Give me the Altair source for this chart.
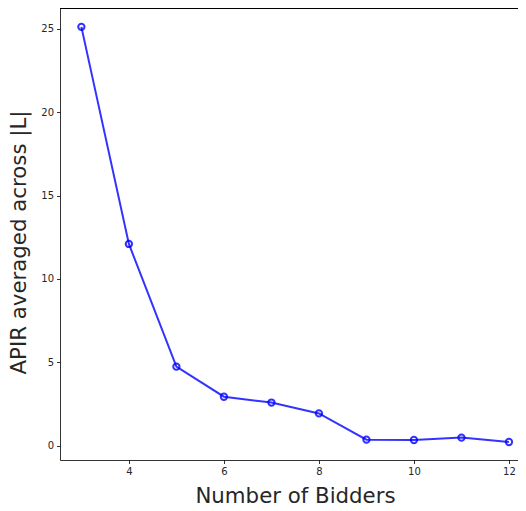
import altair as alt
import pandas as pd

bidders = [3, 4, 5, 6, 7, 8, 9, 10, 11, 12]
apir = [25.1, 12.1, 4.75, 2.95, 2.6, 1.95, 0.38, 0.36, 0.5, 0.24]

df = pd.DataFrame({"bidders": bidders, "apir": apir})

W = 458
H = 452
FONT = "DejaVu Sans"

x = alt.X(
    "bidders:Q",
    scale=alt.Scale(domain=[2.55, 12.19], nice=False, zero=False),
    axis=alt.Axis(
        values=[4, 6, 8, 10, 12],
        grid=False,
        tickSize=3.5,
        tickColor="black",
        tickWidth=0.8,
        domainColor="black",
        domainWidth=0.8,
        labelFontSize=10,
        labelColor="#262626",
        labelFont=FONT,
        labelPadding=3,
        title="Number of Bidders",
        titleFontSize=21.3,
        titleFontWeight="normal",
        titleFont=FONT,
        titleColor="#262626",
        titleX=235,
        titleY=42.5,
        titleBaseline="alphabetic",
        titleAlign="center",
    ),
)
y = alt.Y(
    "apir:Q",
    scale=alt.Scale(domain=[-0.84, 26.23], nice=False, zero=False),
    axis=alt.Axis(
        values=[0, 5, 10, 15, 20, 25],
        grid=False,
        tickSize=3.5,
        tickColor="black",
        tickWidth=0.8,
        domainColor="black",
        domainWidth=0.8,
        labelFontSize=10,
        labelColor="#262626",
        labelFont=FONT,
        labelPadding=3,
        title="APIR averaged across |L|",
        titleFontSize=21.3,
        titleFontWeight="normal",
        titleFont=FONT,
        titleColor="#262626",
        titleAngle=270,
        titleX=-35,
        titleY=234,
        titleBaseline="alphabetic",
        titleAlign="center",
    ),
)

line = alt.Chart(df).mark_line(color="#0000ff", opacity=0.8, strokeWidth=2).encode(x=x, y=y)
pts = alt.Chart(df).mark_point(
    filled=False, color="#0000ff", opacity=0.8, strokeWidth=2, size=40
).encode(x=x, y=y)
top = alt.Chart(df).mark_rule(color="black", strokeWidth=0.8).encode(
    x=alt.value(0), x2=alt.value(W), y=alt.value(0.5)
)

chart = (
    alt.layer(line, pts, top)
    .properties(
        width=W,
        height=H,
        autosize=alt.AutoSizeParams(type="none"),
        padding={"left": 52, "top": 0, "right": 0, "bottom": 43},
    )
    .configure_view(stroke=None)
)

chart.save("out.html", embed_options={"renderer": "svg", "actions": False})
